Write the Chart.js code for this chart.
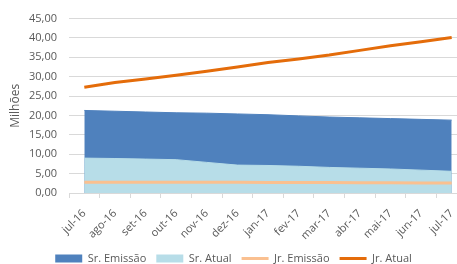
<!DOCTYPE html>
<html>
<head>
<meta charset="utf-8">
<script src="https://cdn.jsdelivr.net/npm/chart.js@4"></script>
<style>
  html, body { margin: 0; padding: 0; background: #fff; overflow: hidden; }
  #wrap { width: 467px; height: 264px; }
</style>
</head>
<body>
<div id="wrap"><canvas id="chartSaldo"></canvas></div>
<script>
const meses = ['jul-16', 'ago-16', 'set-16', 'out-16', 'nov-16', 'dez-16', 'jan-17',
  'fev-17', 'mar-17', 'abr-17', 'mai-17', 'jun-17', 'jul-17'];
const srEmissao = [21.3, 21.1, 20.9, 20.7, 20.6, 20.4, 20.2, 19.9, 19.6, 19.4, 19.2, 19.0, 18.8];
const srAtual = [9.0, 8.9, 8.75, 8.6, 7.9, 7.2, 7.1, 6.9, 6.6, 6.4, 6.2, 5.9, 5.6];
const jrEmissao = [2.8, 2.8, 2.8, 2.8, 2.75, 2.75, 2.7, 2.7, 2.7, 2.65, 2.65, 2.6, 2.6];
const jrAtual = [27.3, 28.5, 29.4, 30.4, 31.4, 32.5, 33.7, 34.6, 35.6, 36.8, 38.0, 39.0, 40.1];

const cinza = '#595959';
const fonte = { family: '"Open Sans", sans-serif', size: 11 };

const data = {
  labels: meses,
  datasets: [
    {
      label: 'Sr. Emissão',
      data: srEmissao,
      backgroundColor: '#4f81bd',
      borderColor: '#4f81bd',
      borderWidth: 1,
      fill: 'origin',
      pointRadius: 0,
      tension: 0,
      order: 3,
    },
    {
      label: 'Sr. Atual',
      data: srAtual,
      backgroundColor: '#b7dde8',
      borderColor: '#b7dde8',
      borderWidth: 1,
      fill: 'origin',
      pointRadius: 0,
      tension: 0,
      order: 2,
    },
    {
      label: 'Jr. Emissão',
      data: jrEmissao,
      borderColor: '#fac090',
      backgroundColor: '#fac090',
      borderWidth: 3,
      fill: false,
      pointRadius: 0,
      order: 1,
    },
    {
      label: 'Jr. Atual',
      data: jrAtual,
      borderColor: '#e46c0a',
      backgroundColor: '#e46c0a',
      borderWidth: 3,
      fill: false,
      pointRadius: 0,
      order: 0,
    },
  ],
};

var ctx = document.getElementById('chartSaldo');
var myChart = new Chart(ctx, {
  type: 'line',
  data: data,
  options: {
    responsive: true,
    maintainAspectRatio: false,
    animation: false,
    layout: { padding: { top: 8, left: 0, right: 0, bottom: -10 } },
    scales: {
      x: {
        offset: true,
        grid: { drawOnChartArea: false, offset: true, tickLength: 5, color: '#d9d9d9' },
        border: { color: '#d9d9d9' },
        ticks: { color: cinza, font: fonte, minRotation: 45, maxRotation: 45, padding: 9 },
        afterFit: (scale) => {
          scale.height = 50;
          scale.paddingLeft = 0;
          scale.paddingRight = 0;
        },
      },
      y: {
        min: 0,
        max: 45,
        ticks: {
          stepSize: 5,
          color: cinza,
          font: fonte,
          padding: 12,
          callback: (v) => v.toFixed(2).replace('.', ','),
        },
        grid: { color: '#d9d9d9', drawTicks: false },
        border: { display: false },
        title: { display: true, text: 'Milhões', color: cinza, font: { family: fonte.family, size: 12 }, padding: 8 },
        afterFit: (scale) => { scale.width = 69; },
      },
    },
    plugins: {
      tooltip: { enabled: false },
      legend: {
        position: 'bottom',
        labels: {
          color: cinza,
          font: fonte,
          usePointStyle: true,
          pointStyleWidth: 27,
          boxHeight: 8,
          padding: 10,
          sort: (a, b) => a.datasetIndex - b.datasetIndex,
          generateLabels: (chart) => {
            const items = Chart.defaults.plugins.legend.labels.generateLabels(chart);
            items.forEach((it) => {
              const ds = chart.data.datasets[it.datasetIndex];
              const area = ds.fill !== false;
              it.pointStyle = area ? 'rect' : 'line';
              it.lineWidth = area ? 0 : 3;
              it.fillStyle = ds.backgroundColor;
              it.strokeStyle = ds.borderColor;
            });
            return items;
          },
        },
      },
    },
  },
});
</script>
</body>
</html>
